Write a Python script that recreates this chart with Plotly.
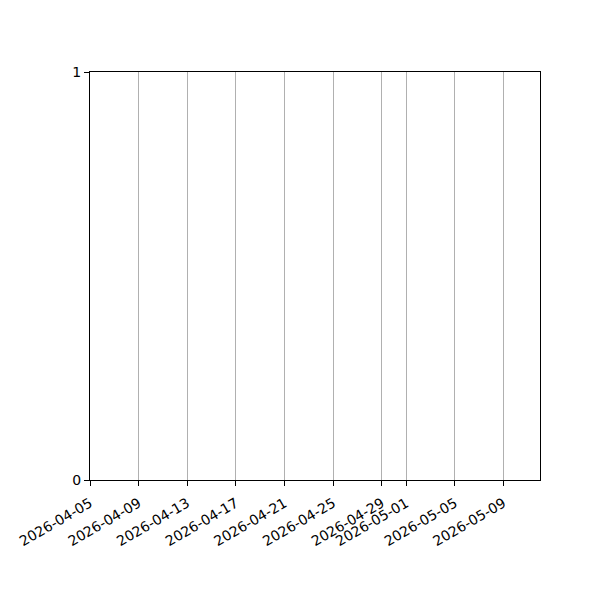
import plotly.graph_objects as go

# Data (the reference plot area is empty; only axes and ticks are shown)
x_dates = []
y_values = []
tick_dates = ["2026-04-05", "2026-04-09", "2026-04-13", "2026-04-17", "2026-04-21",
              "2026-04-25", "2026-04-29", "2026-05-01", "2026-05-05", "2026-05-09"]
x_range = ["2026-04-05", "2026-05-12"]
y_ticks = [0, 1]

fig = go.Figure()
fig.add_trace(go.Scatter(x=x_dates, y=y_values, mode="lines", showlegend=False))

fig.update_layout(
    width=592, height=592,
    margin=dict(l=82, r=60, t=64, b=120, autoexpand=False),
    paper_bgcolor="white", plot_bgcolor="white",
    font=dict(family="DejaVu Sans", size=14, color="black"),
    showlegend=False,
)
fig.update_xaxes(
    type="date", range=x_range, automargin=False,
    tickmode="array", tickvals=tick_dates, ticktext=tick_dates,
    tickangle=-30, ticks="outside", ticklen=5, tickwidth=1, tickcolor="black",
    ticklabelstandoff=4,
    showgrid=True, gridcolor="#b0b0b0", gridwidth=1,
    showline=True, linecolor="black", linewidth=1, mirror=True,
    zeroline=False,
)
fig.update_yaxes(
    range=[0, 1], tickmode="array", tickvals=y_ticks, automargin=False,
    ticks="outside", ticklen=5, tickwidth=1, tickcolor="black",
    showgrid=False,
    showline=True, linecolor="black", linewidth=1, mirror=True,
    zeroline=False,
)

fig.write_html("out.html")
